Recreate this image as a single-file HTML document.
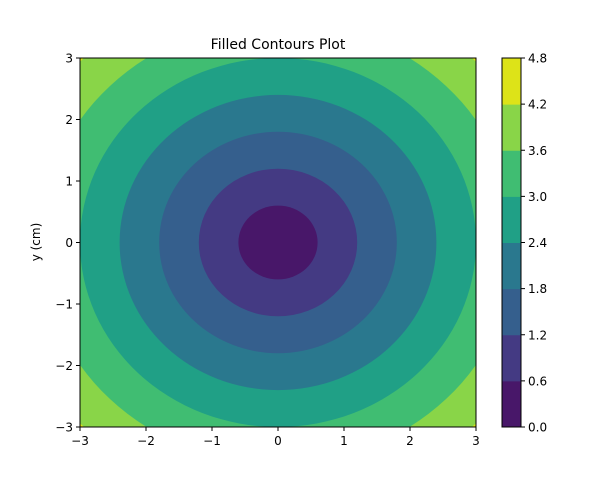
<!DOCTYPE html>
<html><head><meta charset="utf-8"><style>
body{margin:0;background:#fff;}
svg{display:block;font-family:"DejaVu Sans","Liberation Sans",sans-serif;}
</style></head><body>
<svg id="chart" width="600" height="480">
<defs><clipPath id="plotclip"><rect x="80" y="58" width="396" height="369"/></clipPath></defs>
<text x="278" y="49" text-anchor="middle" font-size="14">Filled Contours Plot</text>
<g id="plot" clip-path="url(#plotclip)"></g>
<rect x="80" y="58" width="396" height="369" fill="none" stroke="#000" stroke-width="1"/>
<g id="xaxis"></g>
<g id="yaxis"></g>
<text x="40" y="242" text-anchor="middle" font-size="12" transform="rotate(-90 40 242)">y (cm)</text>
<g id="cbar"></g>
</svg>
<script>
const levels=[0,0.6,1.2,1.8,2.4,3.0,3.6,4.2,4.8];
const layerColors=["#481769","#443a83","#355f8d","#2a788e","#20a086","#40bd72","#89d548","#dde318"];
const xTicks=[-3,-2,-1,0,1,2,3];
const yTicks=[-3,-2,-1,0,1,2,3];
const cbarTicks=[0,0.6,1.2,1.8,2.4,3.0,3.6,4.2,4.8];
const NS="http://www.w3.org/2000/svg";
const X0=80,X1=476,Y0=58,Y1=427;
const sx=v=>X0+(v+3)/6*(X1-X0);
const sy=v=>Y1-(v+3)/6*(Y1-Y0);
const cbX=502,cbW=19;
const cy=v=>Y1-(v-levels[0])/(levels[levels.length-1]-levels[0])*(Y1-Y0);
function mk(tag,attrs,parent){const e=document.createElementNS(NS,tag);for(const k in attrs)e.setAttribute(k,attrs[k]);parent.appendChild(e);return e;}
const plot=document.getElementById('plot');
const bg=mk('rect',{x:X0,y:Y0,width:X1-X0,height:Y1-Y0,fill:layerColors[layerColors.length-1]},plot);


for(let i=layerColors.length-2;i>=0;i--){
  const r=levels[i+1];
  const e=mk('ellipse',{cx:sx(0),cy:sy(0),rx:sx(r)-sx(0),ry:sy(0)-sy(r),fill:layerColors[i]},plot);
  
  
}
const fmt=v=>v<0?'\u2212'+Math.abs(v):String(v);
const xa=document.getElementById('xaxis');
xTicks.forEach(t=>{
  const l=mk('line',{x1:sx(t),x2:sx(t),y1:Y1,y2:Y1+4,stroke:'#000'},xa);
  
  
  const tx=mk('text',{x:sx(t),y:Y1+18,'text-anchor':'middle','font-size':'12'},xa);
  tx.textContent=fmt(t);
  
  
});
const ya=document.getElementById('yaxis');
yTicks.forEach(t=>{
  const l=mk('line',{x1:X0-4,x2:X0,y1:sy(t),y2:sy(t),stroke:'#000'},ya);
  
  
  const tx=mk('text',{x:X0-7,y:sy(t)+4.5,'text-anchor':'end','font-size':'12'},ya);
  tx.textContent=fmt(t);
  
  
});
const cb=document.getElementById('cbar');
layerColors.forEach((c,i)=>{
  const r=mk('rect',{x:cbX,y:cy(levels[i+1]),width:cbW,height:cy(levels[i])-cy(levels[i+1])+0.5,fill:c},cb);
  
  
});
const fr=mk('rect',{x:cbX,y:Y0,width:cbW,height:Y1-Y0,fill:'none',stroke:'#000'},cb);


cbarTicks.forEach(t=>{
  const l=mk('line',{x1:cbX+cbW,x2:cbX+cbW+4,y1:cy(t),y2:cy(t),stroke:'#000'},cb);
  
  
  const tx=mk('text',{x:cbX+cbW+7,y:cy(t)+4.5,'font-size':'12'},cb);
  tx.textContent=t.toFixed(1);
  
  
});
</script>
</body></html>
